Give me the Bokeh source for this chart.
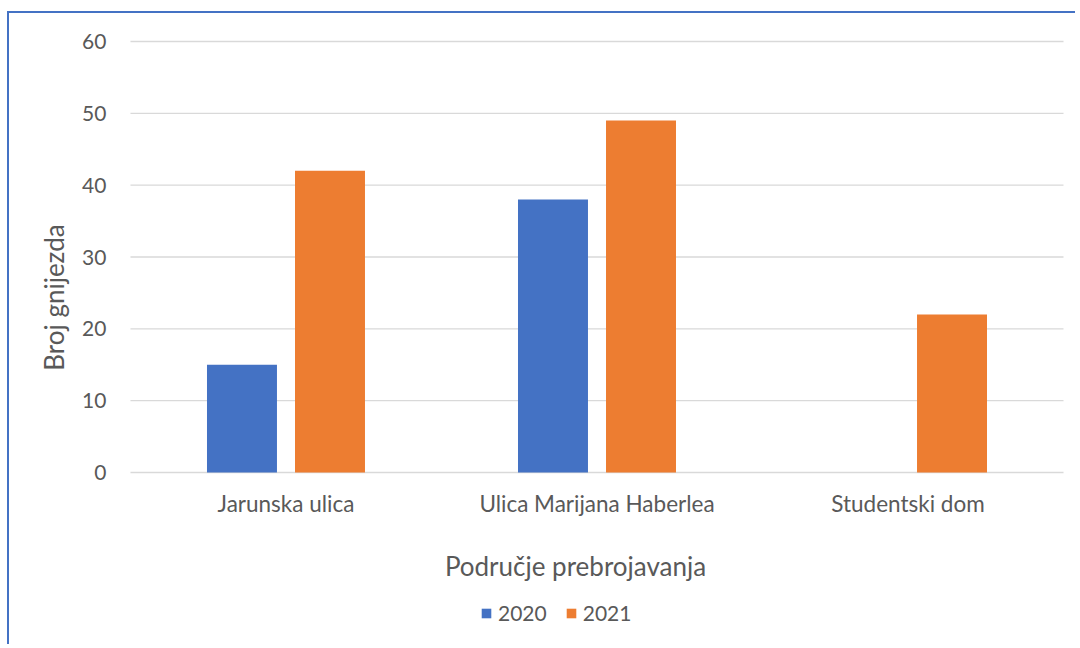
import math
from bokeh.plotting import figure
from bokeh.models import Range1d, Legend, LegendItem, Label
from bokeh.embed import file_html
from bokeh.resources import INLINE
from bokeh.core.properties import value

categories = ["Jarunska ulica", "Ulica Marijana Haberlea", "Studentski dom"]
series_names = ["2020", "2021"]
values_2020 = [15, 38, 0]
values_2021 = [42, 49, 22]
y_ticks = [0, 10, 20, 30, 40, 50, 60]
x_title = "Područje prebrojavanja"
y_title = "Broj gnijezda"

BLUE = "#4472C4"
ORANGE = "#ED7D31"
TEXT = "#595959"
GRID = "#D9D9D9"
FONT = "Lato"

W, H = 1068, 633
p = figure(width=W, height=H, x_range=Range1d(-0.389, 3.045), y_range=Range1d(-24.22, 63.9),
           output_backend="svg", toolbar_location=None,
           x_axis_location=None, y_axis_location=None,
           min_border_left=0, min_border_right=0, min_border_top=0, min_border_bottom=0)
p.styles = {"border-top": "2px solid #4472C4", "border-left": "2px solid #4472C4",
            "margin-top": "11px", "margin-left": "7px"}
p.outline_line_color = None
p.xgrid.visible = False
p.ygrid.visible = False

n = len(categories)
centers = [i + 0.5 for i in range(n)]

# gridlines at the tick values, across the category span
p.segment(x0=[0] * len(y_ticks), x1=[n] * len(y_ticks), y0=y_ticks, y1=y_ticks,
          line_color=GRID, line_width=1.3)

r1 = p.vbar(x=[c - 0.1415 for c in centers], top=values_2020, width=0.225,
            fill_color=BLUE, line_color=None)
r2 = p.vbar(x=[c + 0.1415 for c in centers], top=values_2021, width=0.225,
            fill_color=ORANGE, line_color=None)

# y tick labels
p.text(x=[0] * len(y_ticks), y=y_ticks, text=[str(t) for t in y_ticks], x_offset=-24,
       text_align="right", text_baseline="middle", text_font=value(FONT),
       text_font_size=value("21px"), text_color=TEXT)
# category labels
p.text(x=centers, y=[-4.32] * n, text=categories, text_align="center", text_baseline="middle",
       text_font=value(FONT), text_font_size=value("22.5px"), text_color=TEXT)

p.add_layout(Label(x=1.431, y=-12.95, text=x_title, text_align="center", text_baseline="middle",
                   text_font=FONT, text_font_size="26px", text_color=TEXT))
p.add_layout(Label(x=-0.245, y=24.36, text=y_title, angle=math.pi / 2, text_align="center",
                   text_baseline="middle", text_font=FONT, text_font_size="26px", text_color=TEXT))

legend = Legend(items=[LegendItem(label=series_names[0], renderers=[r1]),
                       LegendItem(label=series_names[1], renderers=[r2])],
                location=(471, 21), orientation="horizontal", border_line_color=None,
                background_fill_alpha=0, padding=0, margin=0, spacing=18,
                glyph_width=12, glyph_height=12, label_standoff=6,
                label_text_font=FONT, label_text_font_size="21px", label_text_color=TEXT)
p.add_layout(legend, "center")

open("out.html", "w").write(file_html(p, INLINE))
